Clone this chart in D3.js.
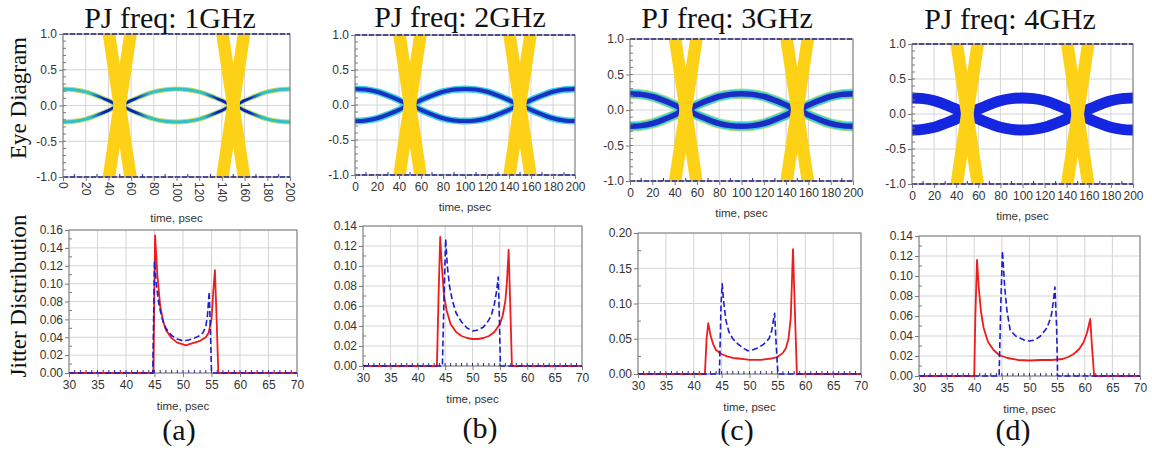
<!DOCTYPE html>
<meta charset="utf-8">
<script src="https://d3js.org/d3.v7.min.js"></script>
<style>
  body { margin: 0; background: #fff; }
  svg text { font-family: "Liberation Sans", Arial, sans-serif; }
  .serif { font-family: "Liberation Serif", "Times New Roman", serif !important; }
</style>
<svg id="fig"></svg>
<script>

// ---- data ----
var panelTitles = ["PJ freq: 1GHz", "PJ freq: 2GHz", "PJ freq: 3GHz", "PJ freq: 4GHz"];
var panelTags = ["(a)", "(b)", "(c)", "(d)"];

// eye diagram: one trace level (upper, mirrored below) vs time
var eyeTimes  = [0, 10, 20, 30, 40, 50, 60, 70, 80, 90, 100, 110, 120, 130, 140, 150, 160, 170, 180, 190, 200];
var eyeLevels = [0.23, 0.22, 0.19, 0.135, 0.07, 0.0, 0.07, 0.135, 0.19, 0.22, 0.23, 0.22, 0.19, 0.135, 0.07, 0.0, 0.07, 0.135, 0.19, 0.22, 0.23];
var eyeRails = [1, -1];
var crossCenters = [50, 150];
var crossHalfSpan = 9.5;
var eyeXTicks = [0, 20, 40, 60, 80, 100, 120, 140, 160, 180, 200];
var eyeYTicks = [-1, -0.5, 0, 0.5, 1];

// jitter distribution
var jitXTicks = [30, 35, 40, 45, 50, 55, 60, 65, 70];
var jitYMax  = [0.16, 0.14, 0.20, 0.14];
var jitYStep = [0.02, 0.02, 0.05, 0.02];

var redTA = [30, 44.8, 45.1, 45.5, 46, 46.5, 47, 48, 49, 50, 50.5, 51, 52, 53, 54, 54.5, 55, 55.3, 55.6, 55.9, 56.2, 70];
var redVA = [0, 0, 0.154, 0.11, 0.075, 0.058, 0.048, 0.039, 0.034, 0.032, 0.031, 0.032, 0.034, 0.036, 0.04, 0.045, 0.06, 0.09, 0.115, 0.06, 0, 0];
var blueTA = [30, 44.7, 45.0, 45.3, 45.7, 46, 46.5, 47, 48, 49, 50, 51, 52, 53, 53.5, 54, 54.3, 54.6, 54.8, 55.0, 70];
var blueVA = [0, 0, 0.125, 0.1, 0.08, 0.07, 0.058, 0.05, 0.042, 0.038, 0.036, 0.037, 0.039, 0.042, 0.045, 0.052, 0.065, 0.091, 0.05, 0, 0];

var redTB = [30, 43.5, 43.8, 44.1, 44.4, 44.8, 45.3, 46, 47, 48, 49, 50, 51, 52, 53, 54, 55, 55.5, 56, 56.3, 56.6, 56.9, 57.2, 70];
var redVB = [0, 0, 0.07, 0.129, 0.1, 0.07, 0.055, 0.042, 0.034, 0.030, 0.028, 0.027, 0.027, 0.028, 0.030, 0.034, 0.042, 0.05, 0.065, 0.085, 0.116, 0.06, 0, 0];
var blueTB = [30, 44.5, 44.8, 45.1, 45.4, 45.8, 46.3, 47, 48, 49, 50, 51, 52, 53, 53.5, 54, 54.4, 54.7, 54.9, 55.1, 70];
var blueVB = [0, 0, 0.07, 0.127, 0.1, 0.08, 0.066, 0.053, 0.044, 0.038, 0.035, 0.036, 0.039, 0.046, 0.052, 0.062, 0.075, 0.089, 0.05, 0, 0];

var redTC = [30, 42.0, 42.3, 42.6, 43, 43.5, 44, 45, 46, 47, 48, 49, 50, 51, 52, 53, 54, 55, 56, 56.5, 57, 57.4, 57.8, 58.1, 58.5, 70];
var redVC = [0, 0, 0.05, 0.072, 0.055, 0.042, 0.034, 0.028, 0.025, 0.023, 0.022, 0.021, 0.020, 0.020, 0.020, 0.021, 0.022, 0.024, 0.030, 0.036, 0.05, 0.08, 0.177, 0.1, 0, 0];
var blueTC = [30, 44.6, 44.9, 45.1, 45.4, 45.8, 46.3, 47, 48, 49, 49.7, 50.5, 51.5, 52.5, 53.5, 54, 54.5, 54.8, 55.1, 70];
var blueVC = [0, 0, 0.1, 0.128, 0.1, 0.075, 0.06, 0.05, 0.042, 0.036, 0.033, 0.034, 0.037, 0.042, 0.05, 0.062, 0.086, 0.04, 0, 0];

var redTD = [30, 40.0, 40.2, 40.5, 40.8, 41.2, 41.7, 42.5, 43.5, 44.5, 46, 48, 50, 52, 54, 56, 57, 58, 59, 59.8, 60.4, 61.0, 61.3, 61.7, 70];
var redVD = [0, 0, 0.06, 0.116, 0.09, 0.065, 0.048, 0.034, 0.026, 0.021, 0.018, 0.016, 0.0155, 0.016, 0.016, 0.017, 0.019, 0.022, 0.027, 0.034, 0.043, 0.057, 0.03, 0, 0];
var blueTD = [30, 44.5, 44.8, 45.1, 45.5, 45.9, 46.5, 47.5, 49, 50, 51, 52, 53, 53.5, 54, 54.3, 54.6, 54.9, 55.1, 70];
var blueVD = [0, 0, 0.07, 0.125, 0.09, 0.066, 0.046, 0.04, 0.036, 0.035, 0.036, 0.04, 0.047, 0.053, 0.062, 0.074, 0.089, 0.05, 0, 0];

var redT = [redTA, redTB, redTC, redTD], redV = [redVA, redVB, redVC, redVD];
var blueT = [blueTA, blueTB, blueTC, blueTD], blueV = [blueVA, blueVB, blueVC, blueVD];

// ---- layout ----
var eyeBoxes = [
  {l: 63, r: 290, t: 34, b: 177},
  {l: 355, r: 575, t: 35, b: 175},
  {l: 630, r: 853, t: 39, b: 181},
  {l: 912, r: 1133, t: 44, b: 184}
];
var jitBoxes = [
  {l: 69, r: 297, t: 230, b: 373},
  {l: 363, r: 582, t: 226, b: 366},
  {l: 638, r: 861, t: 233, b: 374},
  {l: 919, r: 1140, t: 236, b: 376}
];
var titleX = [170, 460, 727, 1010], titleY = [28, 27, 28, 29];
var tagX = [179, 480, 737, 1013], tagY = [440, 438, 440, 440];

// trace looks per panel (outer to inner)
var traceLayers = [
  [{c: "#c3dc66", w: 5}, {c: "#2fbfcf", w: 3}, {c: "url(#gradA)", w: 2.6}],
  [{c: "#3ecbe0", w: 7}, {c: "#1632c4", w: 4}],
  [{c: "#b4e27a", w: 10.5}, {c: "#3ccbe0", w: 8.5}, {c: "#1a2cc2", w: 5.5}],
  [{c: "#1426e0", w: 11}]
];

var W = 1152, H = 450;
var svg = d3.select("#fig").attr("width", W).attr("height", H);
var defs = svg.append("defs");

var gridColor = "#d4d4d4", frameColor = "#7a7a7a", navy = "#2b2b8c", tickText = "#333";

// gradient for panel (a): dark blue only near the crossings
var ga = defs.append("linearGradient").attr("id", "gradA")
  .attr("gradientUnits", "userSpaceOnUse")
  .attr("x1", eyeBoxes[0].l).attr("x2", eyeBoxes[0].r).attr("y1", 0).attr("y2", 0);
[[0, 0], [0.12, 0], [0.18, 1], [0.32, 1], [0.38, 0], [0.62, 0], [0.68, 1], [0.82, 1], [0.88, 0], [1, 0]]
  .forEach(function (s) {
    ga.append("stop").attr("offset", s[0]).attr("stop-color", "#0e1cb4").attr("stop-opacity", s[1]);
  });

// ---- eye diagrams ----
eyeBoxes.forEach(function (bx, i) {
  var x = d3.scaleLinear().domain([0, 200]).range([bx.l, bx.r]);
  var y = d3.scaleLinear().domain([-1, 1]).range([bx.b, bx.t]);
  var g = svg.append("g");

  defs.append("clipPath").attr("id", "eclip" + i).append("rect")
    .attr("x", bx.l).attr("y", bx.t).attr("width", bx.r - bx.l).attr("height", bx.b - bx.t);

  // grid
  g.selectAll(".vg").data(eyeXTicks).enter().append("line")
    .attr("x1", d => x(d)).attr("x2", d => x(d)).attr("y1", bx.t).attr("y2", bx.b)
    .attr("stroke", gridColor).attr("stroke-width", 1);
  g.selectAll(".hg").data(eyeYTicks).enter().append("line")
    .attr("y1", d => y(d)).attr("y2", d => y(d)).attr("x1", bx.l).attr("x2", bx.r)
    .attr("stroke", gridColor).attr("stroke-width", 1);

  // traces
  var plot = g.append("g").attr("clip-path", "url(#eclip" + i + ")");
  var pts = eyeTimes.map((t, k) => [t, eyeLevels[k]]);
  var lineUp = d3.line().x(d => x(d[0])).y(d => y(d[1])).curve(d3.curveMonotoneX);
  var lineDn = d3.line().x(d => x(d[0])).y(d => y(-d[1])).curve(d3.curveMonotoneX);
  traceLayers[i].forEach(function (ly) {
    [lineUp, lineDn].forEach(function (ln) {
      plot.append("path").attr("d", ln(pts)).attr("fill", "none")
        .attr("stroke", ly.c).attr("stroke-width", ly.w).attr("stroke-linecap", "round");
    });
  });

  // yellow crossing bands
  crossCenters.forEach(function (c) {
    [[c - crossHalfSpan * 1.1, 1.1, c + crossHalfSpan * 1.1, -1.1],
     [c + crossHalfSpan * 1.1, 1.1, c - crossHalfSpan * 1.1, -1.1]].forEach(function (s) {
      plot.append("line")
        .attr("x1", x(s[0])).attr("y1", y(s[1])).attr("x2", x(s[2])).attr("y2", y(s[3]))
        .attr("stroke", "#fcd116").attr("stroke-width", 12.5);
    });
  });

  // frame
  g.append("rect").attr("x", bx.l).attr("y", bx.t).attr("width", bx.r - bx.l).attr("height", bx.b - bx.t)
    .attr("fill", "none").attr("stroke", frameColor).attr("stroke-width", 1);

  // rails at +-1
  g.selectAll(".rail").data(eyeRails).enter().append("line")
    .attr("x1", x(0)).attr("x2", x(200)).attr("y1", d => y(d)).attr("y2", d => y(d))
    .attr("stroke", navy).attr("stroke-width", 1.6).attr("stroke-dasharray", "5,2");

  // minor ticks
  g.selectAll(".ymt").data(d3.range(-1, 1.001, 0.1)).enter().append("line")
    .attr("x1", bx.l).attr("x2", bx.l + 3).attr("y1", d => y(d)).attr("y2", d => y(d))
    .attr("stroke", frameColor);
  g.selectAll(".xmt").data(d3.range(10, 200, 20)).enter().append("line")
    .attr("x1", d => x(d)).attr("x2", d => x(d)).attr("y1", bx.b).attr("y2", bx.b - 3)
    .attr("stroke", navy);

  // y axis
  var ya = d3.axisLeft(y).tickValues(eyeYTicks).tickFormat(d3.format(".1f")).tickSize(4).tickPadding(2);
  var yg = svg.append("g").attr("transform", "translate(" + bx.l + ",0)").call(ya);
  yg.select(".domain").remove();
  yg.selectAll("line").attr("stroke", frameColor);
  yg.selectAll("text").attr("font-size", 12).attr("fill", tickText)
    .text(d => d3.format(".1f")(d).replace("−", "-"));

  // x axis
  var xa = d3.axisBottom(x).tickValues(eyeXTicks).tickSize(4).tickPadding(3);
  var xg = svg.append("g").attr("transform", "translate(0," + bx.b + ")").call(xa);
  xg.select(".domain").remove();
  xg.selectAll("line").attr("stroke", frameColor);
  xg.selectAll("text").attr("font-size", 12).attr("fill", tickText);
  if (i === 0) {
    xg.selectAll("text").attr("transform", "rotate(90)").attr("text-anchor", "start")
      .attr("x", 5).attr("y", 0).attr("dy", "0.35em");
  }

  svg.append("text").attr("x", (bx.l + bx.r) / 2).attr("y", bx.b + (i === 0 ? 45 : 36))
    .attr("text-anchor", "middle").attr("font-size", 11.5).attr("fill", tickText).text("time, psec");

  svg.append("text").attr("class", "serif").attr("x", titleX[i]).attr("y", titleY[i])
    .attr("text-anchor", "middle").attr("font-size", 30).attr("fill", "#111").text(panelTitles[i]);
});

// ---- jitter distributions ----
jitBoxes.forEach(function (bx, i) {
  var x = d3.scaleLinear().domain([30, 70]).range([bx.l, bx.r]);
  var y = d3.scaleLinear().domain([0, jitYMax[i]]).range([bx.b, bx.t]);
  var g = svg.append("g");
  var yTicks = d3.range(0, jitYMax[i] + 1e-9, jitYStep[i]);

  g.selectAll(".vg").data(jitXTicks).enter().append("line")
    .attr("x1", d => x(d)).attr("x2", d => x(d)).attr("y1", bx.t).attr("y2", bx.b)
    .attr("stroke", gridColor);
  g.selectAll(".hg").data(yTicks).enter().append("line")
    .attr("y1", d => y(d)).attr("y2", d => y(d)).attr("x1", bx.l).attr("x2", bx.r)
    .attr("stroke", gridColor);

  g.append("rect").attr("x", bx.l).attr("y", bx.t).attr("width", bx.r - bx.l).attr("height", bx.b - bx.t)
    .attr("fill", "none").attr("stroke", frameColor).attr("stroke-width", 1);

  // minor ticks
  g.selectAll(".ymt").data(yTicks.slice(0, -1).map(d => d + jitYStep[i] / 2)).enter().append("line")
    .attr("x1", bx.l).attr("x2", bx.l + 3).attr("y1", d => y(d)).attr("y2", d => y(d))
    .attr("stroke", frameColor);
  g.selectAll(".xmt").data(d3.range(31, 70, 1)).enter().append("line")
    .attr("x1", d => x(d)).attr("x2", d => x(d)).attr("y1", bx.b).attr("y2", bx.b - 3)
    .attr("stroke", navy);

  var ln = d3.line().x(d => x(d[0])).y(d => y(d[1]));
  var red = redT[i].map((t, k) => [t, redV[i][k]]);
  var blue = blueT[i].map((t, k) => [t, blueV[i][k]]);
  g.append("path").attr("d", ln(red)).attr("fill", "none")
    .attr("stroke", "#ee1c1c").attr("stroke-width", 1.8).attr("stroke-linejoin", "round");
  g.append("path").attr("d", ln(blue)).attr("fill", "none")
    .attr("stroke", "#1c1cd0").attr("stroke-width", 1.6).attr("stroke-dasharray", "6,3")
    .attr("stroke-linejoin", "round");

  var ya = d3.axisLeft(y).tickValues(yTicks).tickFormat(d3.format(".2f")).tickSize(4).tickPadding(2);
  var yg = svg.append("g").attr("transform", "translate(" + bx.l + ",0)").call(ya);
  yg.select(".domain").remove();
  yg.selectAll("line").attr("stroke", frameColor);
  yg.selectAll("text").attr("font-size", 12).attr("fill", tickText);

  var xa = d3.axisBottom(x).tickValues(jitXTicks).tickSize(4).tickPadding(3);
  var xg = svg.append("g").attr("transform", "translate(0," + bx.b + ")").call(xa);
  xg.select(".domain").remove();
  xg.selectAll("line").attr("stroke", frameColor);
  xg.selectAll("text").attr("font-size", 12).attr("fill", tickText);

  svg.append("text").attr("x", (bx.l + bx.r) / 2).attr("y", bx.b + 37)
    .attr("text-anchor", "middle").attr("font-size", 11.5).attr("fill", tickText).text("time, psec");

  svg.append("text").attr("class", "serif").attr("x", tagX[i]).attr("y", tagY[i])
    .attr("text-anchor", "middle").attr("font-size", 30).attr("fill", "#111").text(panelTags[i]);
});

// row labels
svg.append("text").attr("class", "serif").attr("transform", "translate(26,98) rotate(-90)")
  .attr("text-anchor", "middle").attr("font-size", 23).attr("fill", "#111").text("Eye Diagram");
svg.append("text").attr("class", "serif").attr("transform", "translate(26,296) rotate(-90)")
  .attr("text-anchor", "middle").attr("font-size", 23).attr("fill", "#111").text("Jitter Distribution");

</script>
